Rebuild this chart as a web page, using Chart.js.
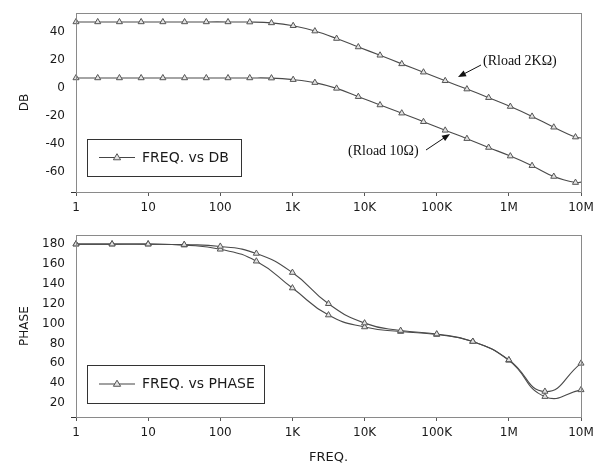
<!DOCTYPE html>
<html>
<head>
<meta charset="utf-8">
<script src="https://cdn.jsdelivr.net/npm/chart.js@4.4.0/dist/chart.umd.min.js"></script>
<style>
    body { margin: 0; background: #fff; }
    .panel { position: absolute; left: 0; width: 608px; }
    #top-panel { top: 0; height: 222px; }
    #bottom-panel { top: 222px; height: 246px; }
</style>
</head>
<body>
<div class="panel" id="top-panel"><canvas id="dbChart" width="608" height="222"></canvas></div>
<div class="panel" id="bottom-panel"><canvas id="phaseChart" width="608" height="246"></canvas></div>
<script>
// Gain sweep, one point per octave (last entry is the 10M end of the trace)
const dbFreq = [1, 2, 4, 8, 16, 32, 64, 128, 256, 512, 1024, 2048, 4096, 8192, 16384, 32768,
    65536, 131072, 262144, 524288, 1048576, 2097152, 4194304, 8388608, 10000000];
const dbLoad2k = [46.8, 46.8, 46.8, 46.8, 46.8, 46.8, 46.8, 46.8, 46.7, 46.1, 44.1, 40.3, 35.0, 29.0,
    23.1, 17.0, 11.1, 5.0, -0.9, -7.0, -13.3, -20.3, -28.0, -35.0, -35.6];
const dbLoad10 = [7.0, 7.0, 7.0, 7.0, 7.0, 7.0, 7.0, 7.0, 7.0, 6.9, 5.8, 3.7, -0.4, -6.3,
    -12.2, -18.0, -24.1, -30.2, -36.1, -42.4, -48.5, -55.3, -63.0, -67.3, -67.0];

// Phase sweep, two points per decade
const phaseFreq = [1, 3.162, 10, 31.62, 100, 316.2, 1000, 3162, 10000, 31623, 100000, 316228,
    1000000, 3162278, 10000000];
const phaseA = [180, 180, 180, 179.5, 177.7, 170.6, 151.4, 120.0, 100.5, 93.0, 89.5, 82.0, 63.5, 31.7, 60.0];
const phaseB = [180, 180, 180, 179.0, 174.8, 162.8, 135.8, 108.6, 96.6, 92.0, 89.0, 82.0, 63.0, 26.5, 33.3];

const decadeTicks = [1, 10, 100, 1000, 10000, 100000, 1000000, 10000000];
const decadeLabels = ['1', '10', '100', '1K', '10K', '100K', '1M', '10M'];
const dbTicks = [-60, -40, -20, 0, 20, 40];
const phaseTicks = [20, 40, 60, 80, 100, 120, 140, 160, 180];

const FONT = 'DejaVu Sans';
const TEXT = '#1a1a1a';
const FRAME = '#8a8a8a';

function points(xs, ys) {
    return xs.map((x, i) => ({ x: x, y: ys[i] }));
}

function trace(data, tension) {
    return {
        data: data,
        borderColor: '#4a4a4a',
        borderWidth: 1.1,
        tension: tension,
        pointStyle: 'triangle',
        pointRadius: ctx => (ctx.raw && ctx.raw.x >= 1e7 && data.length > 20 ? 0 : 3.5),
        pointBorderColor: '#555',
        pointBackgroundColor: '#e2e2e2',
        pointBorderWidth: 1,
        clip: false
    };
}

// Plot frame around the chart area
const framePlugin = {
    id: 'frame',
    afterDatasetsDraw(chart) {
        const { ctx, chartArea: a } = chart;
        ctx.save();
        ctx.strokeStyle = FRAME;
        ctx.lineWidth = 1;
        ctx.strokeRect(Math.round(a.left) + 0.5, Math.round(a.top) + 0.5,
            Math.round(a.right - a.left), Math.round(a.bottom - a.top));
        ctx.restore();
    }
};

function drawTriangle(ctx, x, y, r) {
    ctx.beginPath();
    ctx.moveTo(x, y - r);
    ctx.lineTo(x + r * 0.95, y + r * 0.6);
    ctx.lineTo(x - r * 0.95, y + r * 0.6);
    ctx.closePath();
    ctx.fill();
    ctx.stroke();
}

// Single-entry boxed legend
const boxLegendPlugin = {
    id: 'boxLegend',
    afterDraw(chart, args, opts) {
        const { ctx } = chart;
        const [x1, y1, x2, y2] = opts.box;
        const cy = (y1 + y2) / 2;
        ctx.save();
        ctx.fillStyle = '#fff';
        ctx.fillRect(x1, y1, x2 - x1, y2 - y1);
        ctx.strokeStyle = '#333';
        ctx.lineWidth = 1;
        ctx.strokeRect(x1 + 0.5, y1 + 0.5, x2 - x1, y2 - y1);
        ctx.strokeStyle = '#454545';
        ctx.lineWidth = 1.2;
        ctx.beginPath();
        ctx.moveTo(x1 + 12, cy);
        ctx.lineTo(x1 + 48, cy);
        ctx.stroke();
        ctx.fillStyle = '#e2e2e2';
        ctx.strokeStyle = '#555';
        ctx.lineWidth = 1;
        drawTriangle(ctx, x1 + 30, cy, 3.8);
        ctx.fillStyle = TEXT;
        ctx.font = '14px "' + FONT + '"';
        ctx.textBaseline = 'middle';
        ctx.fillText(opts.text, x1 + 55, cy + 0.5);
        ctx.restore();
    }
};

function arrow(ctx, x0, y0, x1, y1) {
    const ang = Math.atan2(y1 - y0, x1 - x0);
    const len = 8, half = 3.2;
    ctx.beginPath();
    ctx.moveTo(x0, y0);
    ctx.lineTo(x1 - Math.cos(ang) * len * 0.7, y1 - Math.sin(ang) * len * 0.7);
    ctx.stroke();
    ctx.beginPath();
    ctx.moveTo(x1, y1);
    ctx.lineTo(x1 - Math.cos(ang) * len - Math.sin(ang) * half, y1 - Math.sin(ang) * len + Math.cos(ang) * half);
    ctx.lineTo(x1 - Math.cos(ang) * len + Math.sin(ang) * half, y1 - Math.sin(ang) * len - Math.cos(ang) * half);
    ctx.closePath();
    ctx.fill();
}

// Load labels with pointer arrows on the gain plot
const loadLabelPlugin = {
    id: 'loadLabels',
    afterDraw(chart) {
        const { ctx } = chart;
        ctx.save();
        ctx.fillStyle = '#111';
        ctx.strokeStyle = '#111';
        ctx.lineWidth = 1;
        ctx.font = '14px "Liberation Serif"';
        ctx.textBaseline = 'middle';
        ctx.fillText('(Rload 2K\u03A9)', 483, 61);
        ctx.fillText('(Rload 10\u03A9)', 348, 151);
        arrow(ctx, 481, 65, 458, 77);
        arrow(ctx, 426, 150, 450, 134);
        ctx.restore();
    }
};

function freqAxis(height, withTitle) {
    return {
        type: 'logarithmic',
        min: 1,
        max: 1e7,
        afterBuildTicks(scale) {
            scale.ticks = decadeTicks.map(v => ({ value: v }));
        },
        afterFit(scale) { scale.height = height; },
        border: { display: false },
        grid: { drawOnChartArea: false, tickLength: 4, tickColor: '#555' },
        ticks: {
            autoSkip: false,
            maxRotation: 0,
            padding: 5,
            color: TEXT,
            font: { family: FONT, size: 12 },
            callback: (v, i) => decadeLabels[i]
        },
        title: {
            display: withTitle,
            text: 'FREQ.',
            color: TEXT,
            font: { family: FONT, size: 13 },
            padding: { top: 0, bottom: 3 }
        }
    };
}

function valueAxis(min, max, tickValues, title) {
    return {
        min: min,
        max: max,
        afterBuildTicks(scale) {
            scale.ticks = [min].concat(tickValues).map(v => ({ value: v }));
        },
        afterFit(scale) { scale.width = 76; },
        border: { display: false },
        grid: {
            drawOnChartArea: false,
            tickLength: 5,
            tickColor: ctx => (ctx.tick && ctx.tick.value === min ? '#333' : 'rgba(0,0,0,0)')
        },
        ticks: {
            padding: 6,
            color: TEXT,
            font: { family: FONT, size: 12 },
            callback: v => (v === min ? '' : v)
        },
        title: {
            display: true,
            text: title,
            color: TEXT,
            font: { family: FONT, size: 12 },
            padding: { top: 18, bottom: 0 }
        }
    };
}

const common = {
    responsive: false,
    animation: false,
    events: [],
    plugins: { legend: { display: false }, tooltip: { enabled: false } }
};

new Chart(document.getElementById('dbChart'), {
    type: 'line',
    data: {
        datasets: [
            trace(points(dbFreq, dbLoad2k), 0.4),
            trace(points(dbFreq, dbLoad10), 0.4)
        ]
    },
    options: {
        ...common,
        layout: { padding: { top: 5, right: 27, left: 0, bottom: 0 } },
        scales: {
            x: freqAxis(30, false),
            y: valueAxis(-74, 53, dbTicks, 'DB')
        },
        plugins: {
            ...common.plugins,
            boxLegend: { box: [87, 139, 241, 176], text: 'FREQ. vs DB' }
        }
    },
    plugins: [framePlugin, boxLegendPlugin, loadLabelPlugin]
});

new Chart(document.getElementById('phaseChart'), {
    type: 'line',
    data: {
        datasets: [
            trace(points(phaseFreq, phaseA), 0.5),
            trace(points(phaseFreq, phaseB), 0.5)
        ]
    },
    options: {
        ...common,
        layout: { padding: { top: 7, right: 27, left: 0, bottom: 0 } },
        scales: {
            x: freqAxis(51, true),
            y: valueAxis(6, 189, phaseTicks, 'PHASE')
        },
        plugins: {
            ...common.plugins,
            boxLegend: { box: [87, 143, 264, 181], text: 'FREQ. vs PHASE' }
        }
    },
    plugins: [framePlugin, boxLegendPlugin]
});
</script>
</body>
</html>
